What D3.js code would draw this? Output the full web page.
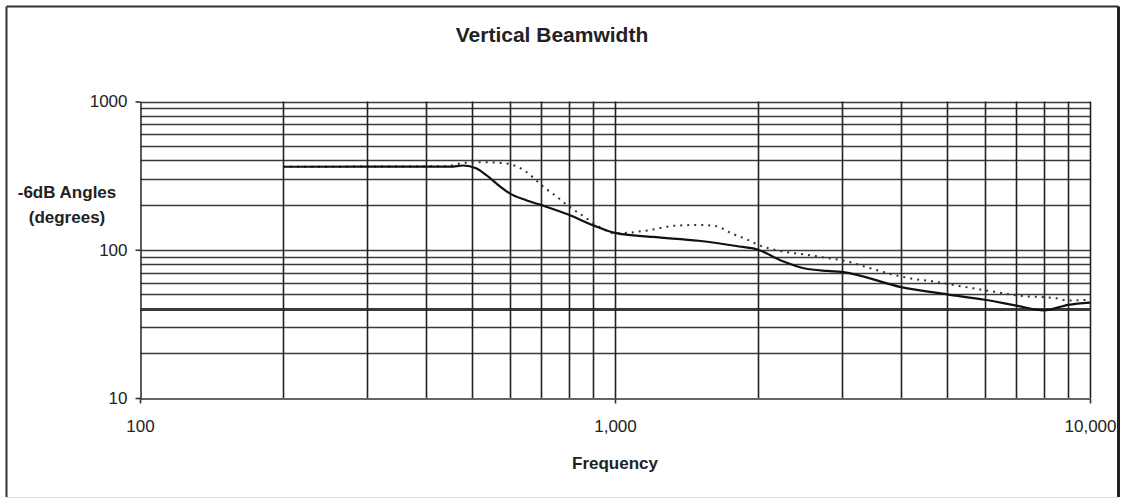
<!DOCTYPE html>
<html>
<head>
<meta charset="utf-8">
<script src="https://cdn.jsdelivr.net/npm/d3@7"></script>
<style>
  html, body { margin: 0; padding: 0; background: #fff; }
  svg { display: block; font-family: 'Liberation Sans', Arial, sans-serif; }
</style>
</head>
<body>
<script>
document.addEventListener('DOMContentLoaded', (event) => {
  const width = 1121;
  const height = 499;
  const margin = { top: 101.5, right: 31, bottom: 101, left: 140 };

  // solid series (frequency in Hz, -6dB angle in degrees)
  const solidFreq = [200, 450, 480, 510, 535, 575, 600, 650, 700, 800, 900, 1000, 1200, 1500, 1800, 2000, 2250, 2500, 2800, 3000, 4000, 5000, 6000, 7000, 8000, 9000, 10000];
  const solidVals = [363, 364, 370, 355, 320, 265, 240, 216, 200, 172, 146, 130, 122, 115, 106, 100, 84, 75, 72, 71, 56, 50, 46, 42, 39, 42.5, 44];

  // dotted series
  const dottedFreq = [200, 440, 480, 520, 580, 650, 700, 755, 800, 850, 930, 1000, 1170, 1330, 1500, 1620, 1770, 1900, 2000, 2230, 2500, 2800, 3000, 3400, 3600, 4200, 4700, 5300, 6300, 7100, 8500, 9000, 10000];
  const dottedVals = [363, 366, 385, 390, 385, 336, 273, 227, 196, 172, 142, 129, 135, 145, 147, 145, 128, 117, 108, 98, 93, 88, 85, 76, 72, 64, 61, 57, 52, 49, 47, 45.5, 46];

  const xTicks = [100, 1000, 10000];
  const xTickLabels = ['100', '1,000', '10,000'];
  const yTicks = [10, 100, 1000];
  const yTickLabels = ['10', '100', '1000'];
  const xGrid = [200, 300, 400, 500, 600, 700, 800, 900, 1000, 2000, 3000, 4000, 5000, 6000, 7000, 8000, 9000, 10000];
  const yGrid = [20, 30, 40, 50, 60, 70, 80, 90, 100, 200, 300, 400, 500, 600, 700, 800, 900, 1000];

  const svg = d3.select('body')
    .append('svg')
      .attr('width', width)
      .attr('height', height);

  // outer frame
  svg.append('line').attr('x1', 6.5).attr('x2', 1118.5).attr('y1', 6.5).attr('y2', 6.5)
    .attr('stroke', '#333').attr('stroke-width', 2);
  svg.append('line').attr('x1', 6.5).attr('x2', 6.5).attr('y1', 6.5).attr('y2', 497)
    .attr('stroke', '#333').attr('stroke-width', 2);
  svg.append('line').attr('x1', 1118.5).attr('x2', 1118.5).attr('y1', 6.5).attr('y2', 497)
    .attr('stroke', '#222').attr('stroke-width', 3);
  svg.append('line').attr('x1', 6.5).attr('x2', 1118.5).attr('y1', 497.5).attr('y2', 497.5)
    .attr('stroke', '#ddd').attr('stroke-width', 1);

  const x = d3.scaleLog()
    .domain([100, 10000])
    .range([margin.left, width - margin.right]);
  const y = d3.scaleLog()
    .domain([10, 1000])
    .range([height - margin.bottom, margin.top]);

  // gridlines
  svg.append('g')
    .selectAll('line')
    .data(yGrid)
    .enter()
    .append('line')
      .attr('x1', x(100))
      .attr('x2', x(10000))
      .attr('y1', d => Math.round(y(d)) + 0.5)
      .attr('y2', d => Math.round(y(d)) + 0.5)
      .attr('stroke', '#3a3a3a')
      .attr('stroke-width', d => d === 40 ? 2.8 : 1.6);

  svg.append('g')
    .selectAll('line')
    .data(xGrid)
    .enter()
    .append('line')
      .attr('x1', d => Math.round(x(d)) + 0.5)
      .attr('x2', d => Math.round(x(d)) + 0.5)
      .attr('y1', y(1000))
      .attr('y2', y(10))
      .attr('stroke', '#222')
      .attr('stroke-width', 1.6);

  // axes
  svg.append('g')
    .attr('transform', `translate(0,${Math.round(y(10)) + 0.5})`)
    .call(d3.axisBottom(x).tickValues(xTicks).tickFormat((d, i) => xTickLabels[i]).tickSize(5).tickSizeOuter(0).tickPadding(16))
    .call(g => g.select('.domain').attr('stroke', '#333').attr('stroke-width', 1.6))
    .call(g => g.selectAll('.tick line').attr('stroke', '#333').attr('stroke-width', 1.6))
    .call(g => g.selectAll('text').attr('font-size', 17).attr('fill', '#222')
      .attr('font-family', "'Liberation Sans', Arial, sans-serif"));

  svg.append('g')
    .attr('transform', `translate(${Math.round(x(100)) + 0.5},0)`)
    .call(d3.axisLeft(y).tickValues(yTicks).tickFormat((d, i) => yTickLabels[i]).tickSize(5).tickSizeOuter(0).tickPadding(8))
    .call(g => g.select('.domain').attr('stroke', '#333').attr('stroke-width', 1.6))
    .call(g => g.selectAll('.tick line').attr('stroke', '#333').attr('stroke-width', 1.6))
    .call(g => g.selectAll('text').attr('font-size', 17).attr('fill', '#222')
      .attr('font-family', "'Liberation Sans', Arial, sans-serif"));

  // series
  const line = d3.line()
    .x(d => x(d[0]))
    .y(d => y(d[1]))
    .curve(d3.curveMonotoneX);

  svg.append('path')
    .datum(dottedFreq.map((f, i) => [f, dottedVals[i]]))
    .attr('d', line)
    .attr('fill', 'none')
    .attr('stroke', '#333')
    .attr('stroke-width', 2)
    .attr('stroke-dasharray', '2,5');

  svg.append('path')
    .datum(solidFreq.map((f, i) => [f, solidVals[i]]))
    .attr('d', line)
    .attr('fill', 'none')
    .attr('stroke', '#111')
    .attr('stroke-width', 2.2);

  // titles
  svg.append('text')
    .text('Vertical Beamwidth')
    .attr('x', 552)
    .attr('y', 42)
    .attr('text-anchor', 'middle')
    .attr('font-size', 21)
    .attr('font-weight', 'bold')
    .attr('fill', '#222');

  svg.append('text')
    .text('Frequency')
    .attr('x', x(1000))
    .attr('y', 469)
    .attr('text-anchor', 'middle')
    .attr('font-size', 17)
    .attr('font-weight', 'bold')
    .attr('fill', '#222');

  const yLabel = svg.append('text')
    .attr('text-anchor', 'middle')
    .attr('font-size', 17)
    .attr('font-weight', 'bold')
    .attr('fill', '#222');
  yLabel.append('tspan').attr('x', 67).attr('y', 198).text('-6dB Angles');
  yLabel.append('tspan').attr('x', 67).attr('y', 223).text('(degrees)');
});
</script>
</body>
</html>
